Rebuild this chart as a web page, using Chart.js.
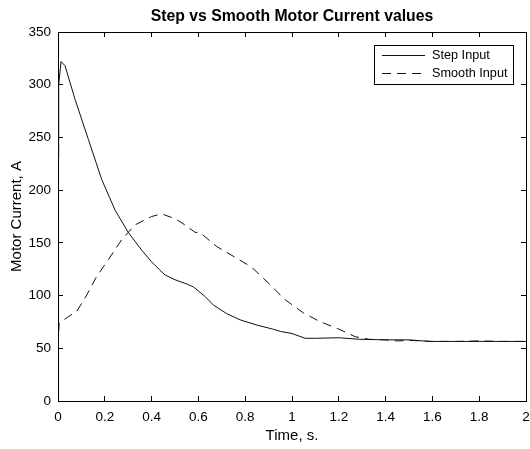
<!DOCTYPE html>
<html>
<head>
<meta charset="utf-8">
<script src="https://cdn.jsdelivr.net/npm/chart.js@4"></script>
<style>
  html, body { margin: 0; padding: 0; background: #fff; }
  #wrap { width: 530px; height: 449px; }
</style>
</head>
<body>
<div id="wrap"><canvas id="myChart" width="530" height="449"></canvas></div>
<script>
// values
const stepTime = [0, 0.003, 0.013, 0.03, 0.073, 0.13, 0.187, 0.244, 0.30, 0.358, 0.40, 0.436, 0.458, 0.50, 0.55, 0.58, 0.629, 0.664, 0.72, 0.778, 0.85, 0.921, 0.95, 1.0, 1.056, 1.1, 1.2, 1.29, 1.4, 1.5, 1.59, 1.7, 1.8, 1.9, 2.0];
const stepCurrent = [230, 300, 322, 318, 286, 248, 210, 181, 160, 143, 132, 124, 119.5, 115, 111, 108, 99, 91, 83, 77, 72, 68, 66, 64, 59.5, 59.5, 60, 58.5, 58, 58, 56.5, 56.5, 56.5, 56.5, 56.5];

const smoothTime = [0, 0.005, 0.044, 0.08, 0.123, 0.165, 0.215, 0.272, 0.329, 0.40, 0.443, 0.50, 0.529, 0.586, 0.607, 0.679, 0.757, 0.828, 0.90, 0.971, 1.049, 1.12, 1.199, 1.27, 1.33, 1.4, 1.45, 1.5, 1.6, 1.7, 1.8, 1.9, 2.0];
const smoothCurrent = [51.5, 73.7, 80, 85, 100.6, 118, 134, 153, 167, 175, 177.4, 173, 169, 160, 159.7, 146.4, 136.3, 126.8, 111.7, 96, 83.5, 75.2, 68.3, 61, 58.5, 58, 57, 57.5, 56.5, 56.5, 57, 56.5, 56.5];

const seriesNames = ['Step Input', 'Smooth Input'];
const xTicks = [0, 2, 0.2];   // min, max, step
const yTicks = [0, 350, 50];
const titleText = 'Step vs Smooth Motor Current values';

const toPoints = (xs, ys) => xs.map((x, i) => ({ x: x, y: ys[i] }));

const FONT = "'Liberation Sans', Arial, sans-serif";

// matlab-ish title centred over the plot box, and the boxed legend in the top right corner
const matlabDecor = {
    id: 'matlabDecor',
    afterDraw(chart) {
        const ctx = chart.ctx;
        const area = chart.chartArea;
        ctx.save();
        ctx.fillStyle = '#000';
        ctx.font = 'bold 15.8px ' + FONT;
        ctx.textAlign = 'center';
        ctx.textBaseline = 'middle';
        ctx.fillText(titleText, (area.left + area.right) / 2, 17);

        // legend
        const right = area.right - 14, top = area.top + 13;
        const w = 138.5, h = 39;
        const left = right - w;
        ctx.fillStyle = '#fff';
        ctx.fillRect(left, top, w, h);
        ctx.strokeStyle = '#000';
        ctx.lineWidth = 1;
        ctx.strokeRect(Math.round(left) + 0.5, Math.round(top) + 0.5, Math.round(w), Math.round(h));
        ctx.font = '12.7px ' + FONT;
        ctx.textAlign = 'left';
        chart.data.datasets.forEach((ds, i) => {
            const y = top + 10.5 + i * 18;
            ctx.beginPath();
            ctx.setLineDash(ds.borderDash || []);
            ctx.strokeStyle = ds.borderColor;
            ctx.moveTo(left + 8.5, y);
            ctx.lineTo(left + 51.5, y);
            ctx.stroke();
            ctx.setLineDash([]);
            ctx.fillStyle = '#000';
            ctx.fillText(ds.label, left + 58.5, y);
        });
        ctx.restore();
    }
};

const tickFont = { family: FONT, size: 13.5 };
const labelFont = { family: FONT, size: 15 };
const shortNum = v => String(Math.round(v * 10) / 10);

const ctx = document.getElementById('myChart').getContext('2d');
const myChart = new Chart(ctx, {
    type: 'line',
    data: {
        datasets: [{
            label: seriesNames[0],
            data: toPoints(stepTime, stepCurrent),
            borderColor: '#111',
            borderWidth: 1,
            pointRadius: 0,
            tension: 0
        }, {
            label: seriesNames[1],
            data: toPoints(smoothTime, smoothCurrent),
            borderColor: '#111',
            borderWidth: 1,
            borderDash: [9, 6],
            pointRadius: 0,
            tension: 0
        }]
    },
    options: {
        responsive: false,
        animation: false,
        layout: { padding: { top: 32, right: 4, left: 0, bottom: 0 } },
        plugins: {
            legend: { display: false },
            title: { display: false },
            tooltip: { enabled: false }
        },
        scales: {
            x: {
                type: 'linear',
                position: 'bottom',
                min: xTicks[0], max: xTicks[1],
                afterFit: s => { s.height = 48; s.paddingLeft = 0; s.paddingRight = 0; },
                ticks: { stepSize: xTicks[2], color: '#000', font: tickFont, padding: 13, maxRotation: 0, callback: shortNum },
                grid: { drawOnChartArea: false, tickLength: -5, color: '#000' },
                border: { color: '#000', width: 1 },
                title: { display: true, text: 'Time, s.', color: '#000', font: labelFont, padding: { top: 0, bottom: 4 } }
            },
            y: {
                type: 'linear',
                position: 'left',
                min: yTicks[0], max: yTicks[1],
                afterFit: s => { s.width = 58; s.paddingTop = 0; s.paddingBottom = 0; },
                ticks: { stepSize: yTicks[2], color: '#000', font: tickFont, padding: 12 },
                grid: { drawOnChartArea: false, tickLength: -5, color: '#000' },
                border: { color: '#000', width: 1 },
                title: { display: true, text: 'Motor Current, A', color: '#000', font: labelFont, padding: { top: 8, bottom: 0 } }
            },
            x2: {
                type: 'linear',
                position: 'top',
                min: xTicks[0], max: xTicks[1],
                afterFit: s => { s.height = 0; s.paddingLeft = 0; s.paddingRight = 0; },
                ticks: { stepSize: xTicks[2], display: false },
                grid: { drawOnChartArea: false, tickLength: -5, color: '#000' },
                border: { color: '#000', width: 1 }
            },
            y2: {
                type: 'linear',
                position: 'right',
                min: yTicks[0], max: yTicks[1],
                afterFit: s => { s.width = 0; s.paddingTop = 0; s.paddingBottom = 0; },
                ticks: { stepSize: yTicks[2], display: false },
                grid: { drawOnChartArea: false, tickLength: -5, color: '#000' },
                border: { color: '#000', width: 1 }
            }
        }
    },
    plugins: [matlabDecor]
});
</script>
</body>
</html>
